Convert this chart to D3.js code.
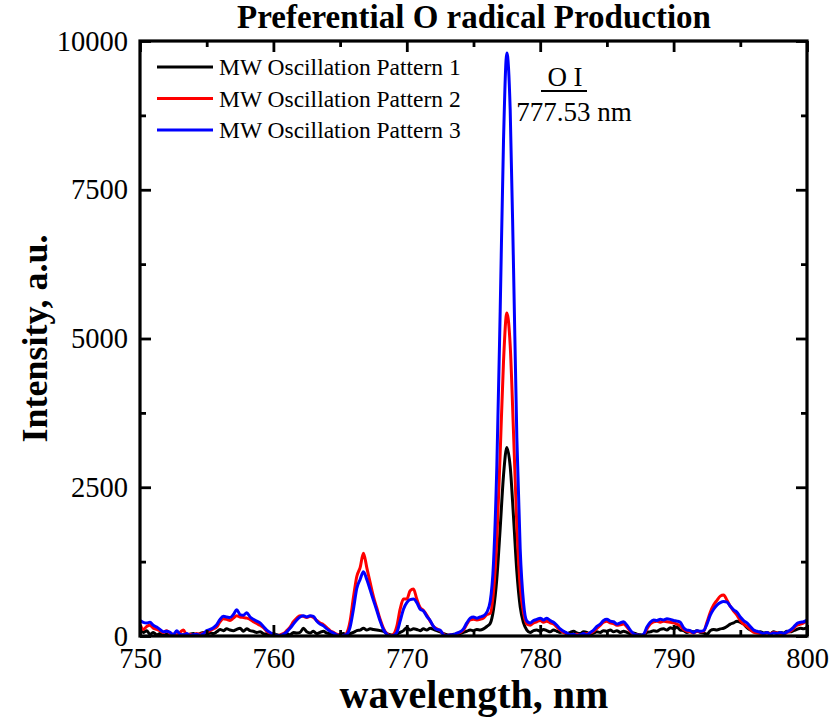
<!DOCTYPE html>
<html>
<head>
<meta charset="utf-8">
<script src="https://cdn.jsdelivr.net/npm/d3@7"></script>
<style>
  html, body { margin: 0; padding: 0; background: #fff; }
  svg { display: block; }
  svg text { font-family: "Liberation Serif", "Times New Roman", Times, "DejaVu Serif", serif !important; fill: #000; }
</style>
</head>
<body>
<svg id="chart" width="830" height="717"></svg>
<script>
// Emission spectra, 750–800 nm sampled every 0.25 nm (one row per nm)
const wlStart = 750, wlEnd = 800, wlStep = 0.25;

const pattern1 = [
  120, 60, 90, 30,      // 750
  60, 20, 40, 10,       // 751
  30, 0, 20, 10,        // 752
  0, 20, 10, 30,        // 753
  40, 20, 40, 60,       // 754
  30, 50, 40, 70,       // 755
  110, 90, 120, 100,    // 756
  90, 110, 130, 80,     // 757
  120, 90, 80, 60,      // 758
  70, 40, 30, 20,       // 759
  40, 20, 10, 30,       // 760
  40, 20, 60, 50,       // 761
  60, 130, 70, 50,      // 762
  80, 40, 60, 80,       // 763
  50, 40, 30, 10,       // 764
  30, 40, 20, 40,       // 765
  60, 90, 100, 130,     // 766
  100, 120, 110, 100,   // 767
  90, 80, 40, 20,       // 768
  10, 30, 60, 90,       // 769
  140, 100, 120, 110,   // 770
  90, 120, 100, 130,    // 771
  110, 90, 70, 40,      // 772
  20, 10, 30, 20,       // 773
  40, 60, 80, 100,      // 774
  90, 110, 100, 120,    // 775
  160, 210, 450, 970,   // 776
  1810, 2700, 3170, 2850, // 777
  2000, 1080, 490, 220, // 778
  100, 60, 90, 100,     // 779
  80, 110, 90, 70,      // 780
  100, 80, 60, 70,      // 781
  40, 60, 80, 50,       // 782
  40, 70, 60, 30,       // 783
  50, 70, 60, 90,       // 784
  80, 100, 70, 90,      // 785
  60, 80, 60, 40,       // 786
  50, 30, 20, 10,       // 787
  60, 70, 90, 80,       // 788
  110, 120, 100, 140,   // 789
  120, 150, 100, 90,    // 790
  60, 80, 70, 90,       // 791
  60, 50, 30, 90,       // 792
  110, 100, 120, 130,   // 793
  160, 200, 220, 250,   // 794
  230, 200, 140, 100,   // 795
  80, 60, 70, 50,       // 796
  60, 40, 70, 50,       // 797
  60, 50, 80, 70,       // 798
  90, 110, 130, 120,    // 799
  140                   // 800
];

const pattern2 = [
  200, 110, 160, 180,   // 750
  130, 110, 90, 60,     // 751
  90, 40, 30, 20,       // 752
  60, 100, 20, 30,      // 753
  10, 40, 30, 50,       // 754
  60, 90, 120, 150,     // 755
  240, 290, 280, 260,   // 756
  300, 340, 320, 310,   // 757
  300, 280, 240, 210,   // 758
  180, 140, 80, 50,     // 759
  30, 0, 20, 40,        // 760
  90, 150, 240, 300,    // 761
  340, 330, 310, 330,   // 762
  310, 260, 220, 190,   // 763
  140, 90, 60, 30,      // 764
  10, 0, 50, 250,       // 765
  650, 1000, 1150, 1390, // 766
  1150, 900, 660, 470,  // 767
  280, 130, 40, 10,     // 768
  30, 160, 450, 620,    // 769
  620, 760, 790, 620,   // 770
  480, 430, 350, 250,   // 771
  160, 120, 90, 30,     // 772
  10, 20, 0, 40,        // 773
  60, 100, 200, 270,    // 774
  280, 270, 280, 300,   // 775
  360, 380, 750, 1620,  // 776
  3070, 4615, 5430, 4890, // 777
  3420, 1850, 840, 390, // 778
  200, 180, 220, 240,   // 779
  260, 230, 250, 220,   // 780
  200, 150, 100, 60,    // 781
  40, 10, 20, 30,       // 782
  10, 30, 40, 50,       // 783
  80, 130, 180, 230,    // 784
  250, 220, 210, 180,   // 785
  190, 200, 150, 80,    // 786
  30, 20, 0, 20,        // 787
  120, 200, 240, 250,   // 788
  230, 250, 240, 230,   // 789
  220, 200, 170, 110,   // 790
  80, 70, 50, 80,       // 791
  70, 80, 230, 400,     // 792
  520, 600, 670, 690,   // 793
  600, 500, 420, 350,   // 794
  260, 200, 160, 110,   // 795
  60, 50, 40, 30,       // 796
  50, 40, 60, 50,       // 797
  40, 30, 60, 80,       // 798
  130, 180, 200, 220,   // 799
  250                   // 800
];

const pattern3 = [
  260, 230, 220, 230,   // 750
  180, 150, 110, 70,    // 751
  80, 60, 20, 90,       // 752
  30, 20, 40, 10,       // 753
  20, 30, 10, 40,       // 754
  90, 110, 140, 190,    // 755
  280, 330, 320, 310,   // 756
  360, 440, 360, 350,   // 757
  390, 320, 280, 250,   // 758
  220, 160, 100, 60,    // 759
  30, 10, 10, 30,       // 760
  70, 130, 200, 270,    // 761
  320, 340, 320, 340,   // 762
  330, 250, 200, 170,   // 763
  120, 80, 50, 20,      // 764
  0, 10, 30, 150,       // 765
  450, 800, 950, 1080,  // 766
  950, 780, 600, 430,   // 767
  250, 110, 30, 0,      // 768
  10, 60, 250, 450,     // 769
  560, 610, 620, 560,   // 770
  450, 420, 330, 260,   // 771
  160, 110, 100, 20,    // 772
  10, 20, 20, 50,       // 773
  70, 120, 220, 300,    // 774
  320, 300, 320, 340,   // 775
  400, 580, 1230, 2860, // 776
  5460, 8330, 9800, 8850, // 777
  6200, 3330, 1460, 560, // 778
  250, 220, 260, 280,   // 779
  300, 270, 300, 260,   // 780
  230, 180, 120, 80,    // 781
  50, 20, 30, 10,       // 782
  20, 40, 20, 60,       // 783
  100, 160, 200, 260,   // 784
  280, 250, 240, 200,   // 785
  220, 240, 180, 100,   // 786
  40, 20, 10, 30,       // 787
  150, 230, 270, 260,   // 788
  280, 270, 290, 280,   // 789
  260, 250, 230, 140,   // 790
  100, 90, 60, 90,      // 791
  80, 90, 200, 350,     // 792
  450, 520, 560, 580,   // 793
  570, 500, 440, 400,   // 794
  320, 260, 220, 160,   // 795
  100, 80, 60, 40,      // 796
  60, 30, 50, 40,       // 797
  60, 40, 70, 100,      // 798
  150, 210, 230, 240,   // 799
  270                   // 800
];

const seriesNames = ["MW Oscillation Pattern 1", "MW Oscillation Pattern 2", "MW Oscillation Pattern 3"];
const seriesColors = ["#000000", "#ff0000", "#0000ff"];
const seriesValues = [pattern1, pattern2, pattern3];

const xTicks = [750, 760, 770, 780, 790, 800];
const xMinorTicks = [755, 765, 775, 785, 795];
const yTicks = [0, 2500, 5000, 7500, 10000];
const yMinorTicks = [1250, 3750, 6250, 8750];

const titleText = "Preferential O radical Production";
const xTitle = "wavelength, nm";
const yTitle = "Intensity, a.u.";
const peakSpecies = "O I";
const peakLabel = "777.53 nm";

// ---------------------------------------------------------------
const SERIF = '"Liberation Serif", "Times New Roman", Times, "DejaVu Serif", serif';
const wavelengths = d3.range(0, pattern1.length).map(i => wlStart + i * wlStep);

const svg = d3.select("#chart").attr("font-family", SERIF);
const margin = { left: 140, top: 41, right: 23, bottom: 81 };
const W = 830, H = 717;
const plotW = W - margin.left - margin.right;
const plotH = H - margin.top - margin.bottom;

const x = d3.scaleLinear().domain([wlStart, wlEnd]).range([margin.left, margin.left + plotW]);
const y = d3.scaleLinear().domain([0, 10000]).range([margin.top + plotH, margin.top]);

svg.append("defs").append("clipPath").attr("id", "plotClip")
  .append("rect")
  .attr("x", margin.left).attr("y", margin.top - 2)
  .attr("width", plotW).attr("height", plotH + 2);

// spectra
const line = d3.line()
  .x((d, i) => x(wavelengths[i]))
  .y(d => y(d))
  .curve(d3.curveMonotoneX);

const lines = svg.append("g").attr("clip-path", "url(#plotClip)");
seriesValues.forEach((vals, k) => {
  lines.append("path")
    .datum(vals)
    .attr("fill", "none")
    .attr("stroke", seriesColors[k])
    .attr("stroke-width", 3)
    .attr("stroke-linejoin", "round")
    .attr("d", line);
});

// axes on all four sides, ticks pointing inward
const axisStyle = g => {
  g.attr("font-family", SERIF);
  g.select(".domain").remove();
  g.selectAll(".tick line").attr("stroke", "#000").attr("stroke-width", 2.8);
  g.selectAll(".tick text").attr("font-size", 28.5).style("font-family", SERIF);
};

svg.append("g")
  .attr("transform", `translate(0,${margin.top + plotH})`)
  .call(d3.axisBottom(x).tickValues(xTicks).tickFormat(d3.format("d")).tickSizeInner(-11).tickPadding(12))
  .call(axisStyle);
svg.append("g")
  .attr("transform", `translate(0,${margin.top + plotH})`)
  .call(d3.axisBottom(x).tickValues(xMinorTicks).tickFormat("").tickSizeInner(-6))
  .call(axisStyle);

svg.append("g")
  .attr("transform", `translate(0,${margin.top})`)
  .call(d3.axisTop(x).tickValues(xTicks).tickFormat("").tickSizeInner(-11))
  .call(axisStyle);
svg.append("g")
  .attr("transform", `translate(0,${margin.top})`)
  .call(d3.axisTop(x).tickValues(xMinorTicks).tickFormat("").tickSizeInner(-6))
  .call(axisStyle);

svg.append("g")
  .attr("transform", `translate(${margin.left},0)`)
  .call(d3.axisLeft(y).tickValues(yTicks).tickFormat(d3.format("d")).tickSizeInner(-11).tickPadding(12))
  .call(axisStyle);
svg.append("g")
  .attr("transform", `translate(${margin.left},0)`)
  .call(d3.axisLeft(y).tickValues(yMinorTicks).tickFormat("").tickSizeInner(-6))
  .call(axisStyle);

svg.append("g")
  .attr("transform", `translate(${margin.left + plotW},0)`)
  .call(d3.axisRight(y).tickValues(yTicks).tickFormat("").tickSizeInner(-11))
  .call(axisStyle);
svg.append("g")
  .attr("transform", `translate(${margin.left + plotW},0)`)
  .call(d3.axisRight(y).tickValues(yMinorTicks).tickFormat("").tickSizeInner(-6))
  .call(axisStyle);

// frame
svg.append("rect")
  .attr("x", margin.left).attr("y", margin.top)
  .attr("width", plotW).attr("height", plotH)
  .attr("fill", "none").attr("stroke", "#000").attr("stroke-width", 3.2);

// titles
svg.append("text")
  .attr("x", 474).attr("y", 28)
  .attr("text-anchor", "middle").attr("font-weight", "bold").attr("font-size", 33)
  .text(titleText);

svg.append("text")
  .attr("x", 474).attr("y", 708)
  .attr("text-anchor", "middle").attr("font-weight", "bold").attr("font-size", 40)
  .text(xTitle);

svg.append("text")
  .attr("transform", `translate(47,${margin.top + plotH / 2}) rotate(-90)`)
  .attr("text-anchor", "middle").attr("font-weight", "bold").attr("font-size", 36)
  .text(yTitle);

// legend
const legend = svg.append("g");
seriesNames.forEach((name, k) => {
  const ly = 67 + k * 31.5;
  legend.append("line")
    .attr("x1", 157).attr("x2", 213).attr("y1", ly).attr("y2", ly)
    .attr("stroke", seriesColors[k]).attr("stroke-width", 3);
  legend.append("text")
    .attr("x", 219).attr("y", ly + 8)
    .attr("font-size", 23.5)
    .text(name);
});

// peak annotation
const ann = svg.append("g");
ann.append("text")
  .attr("x", 565).attr("y", 86)
  .attr("text-anchor", "middle").attr("font-size", 27)
  .text(peakSpecies);
ann.append("line")
  .attr("x1", 541).attr("x2", 587).attr("y1", 91).attr("y2", 91)
  .attr("stroke", "#000").attr("stroke-width", 2);
ann.append("text")
  .attr("x", 574).attr("y", 121)
  .attr("text-anchor", "middle").attr("font-size", 27)
  .text(peakLabel);
</script>
</body>
</html>
